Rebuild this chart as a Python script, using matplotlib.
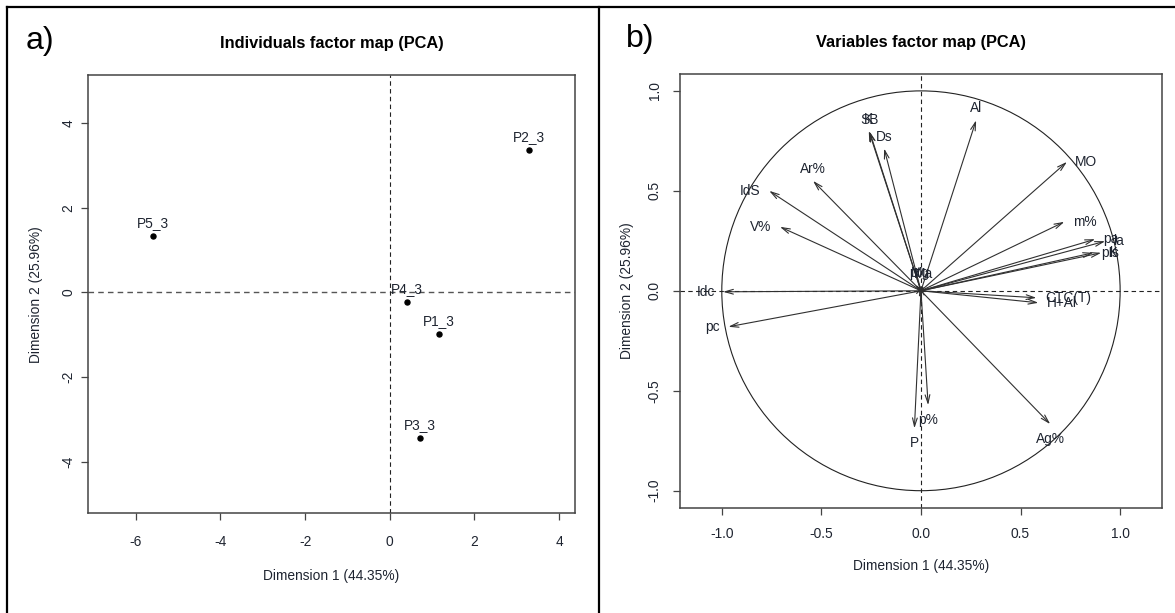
import matplotlib
matplotlib.use("Agg")
import matplotlib.pyplot as plt
from matplotlib.lines import Line2D
from matplotlib.patches import Circle
import numpy as np

plt.rcParams['font.family'] = ['Liberation Sans', 'DejaVu Sans']

# ---- Data: individuals ----
ind_names = ["P1_3", "P2_3", "P3_3", "P4_3", "P5_3"]
ind_dim1 = [1.16, 3.29, 0.71, 0.40, -5.60]
ind_dim2 = [-0.99, 3.37, -3.44, -0.23, 1.33]

# ---- Data: variables ----
var_names = ["Al", "SB", "K", "Ds", "Ar%", "IdS", "V%", "MO", "m%", "pa", "la",
             "pK", "ls", "CTC(T)", "H+Al", "Ag%", "p%", "P", "Idc", "pc",
             "pt", "Mg", "Ma"]
var_dim1 = [0.277, -0.258, -0.262, -0.185, -0.542, -0.762, -0.708, 0.733, 0.720,
            0.875, 0.925, 0.865, 0.905, 0.580, 0.590, 0.649, 0.036, -0.033,
            -0.994, -0.967, -0.028, -0.005, 0.015]
var_dim2 = [0.853, 0.797, 0.800, 0.712, 0.550, 0.500, 0.320, 0.645, 0.345,
            0.258, 0.248, 0.190, 0.190, -0.035, -0.060, -0.667, -0.572, -0.688,
            -0.005, -0.180, 0.030, 0.028, 0.025]

dim1_label = "Dimension 1 (44.35%)"
dim2_label = "Dimension 2 (25.96%)"
ind_ticks = [-6, -4, -2, 0, 2, 4]
ind_yticks = [-4, -2, 0, 2, 4]
var_ticks = [-1.0, -0.5, 0.0, 0.5, 1.0]
var_ticklabels = ["-1.0", "-0.5", "0.0", "0.5", "1.0"]

TXT = '#1e2430'
FS = 9.9

fig = plt.figure(figsize=(11.75, 6.13), dpi=100)

def style_axes(ax, xpad, ypad):
    for s in ax.spines.values():
        s.set_color('#444444')
        s.set_linewidth(1.1)
    ax.tick_params(direction='out', length=5.2, width=0.9, color='#444444',
                   labelsize=FS, labelcolor=TXT)
    ax.tick_params(axis='x', pad=xpad)
    ax.tick_params(axis='y', pad=ypad)
    for lab in ax.get_yticklabels():
        lab.set_rotation(90)
        lab.set_va('center')

# ---------------- Left panel ----------------
ax1 = fig.add_axes([0.0749, 0.1627, 0.4145, 0.7149])
ax1.set_xlim(-7.13, 4.38)
ax1.set_ylim(-5.22, 5.14)
ax1.axhline(0, color='#555555', lw=1.0, ls=(0, (4, 3)))
ax1.axvline(0, color='#222222', lw=0.8, ls=(0, (4, 3)))
ax1.plot(ind_dim1, ind_dim2, 'o', color='black', markersize=3.6, zorder=3)
for n, x, y in zip(ind_names, ind_dim1, ind_dim2):
    ax1.annotate(n, (x, y), xytext=(0, 9.4), textcoords='offset points',
                 ha='center', va='center', fontsize=FS, color=TXT)
ax1.set_xticks(ind_ticks)
ax1.set_xticklabels([str(t) for t in ind_ticks])
ax1.set_yticks(ind_yticks)
ax1.set_yticklabels([str(t) for t in ind_yticks])
style_axes(ax1, 10.5, 4)
ax1.set_xlabel(dim1_label, fontsize=FS, color=TXT, labelpad=14)
ax1.set_ylabel(dim2_label, fontsize=FS, color=TXT, labelpad=13)
ax1.set_title("Individuals factor map (PCA)", fontsize=11.8, fontweight='bold',
              pad=19.5)

# ---------------- Right panel ----------------
ax2 = fig.add_axes([0.5787, 0.1718, 0.4102, 0.7070])
ax2.set_xlim(-1.21, 1.21)
ax2.set_ylim(-1.085, 1.083)
ax2.axhline(0, color='#222222', lw=0.8, ls=(0, (4, 3)))
ax2.axvline(0, color='#222222', lw=0.8, ls=(0, (4, 3)))
ax2.add_patch(Circle((0, 0), 1.0, fill=False, color='#222222', lw=0.8))
for n, x, y in zip(var_names, var_dim1, var_dim2):
    ax2.annotate('', xy=(x, y), xytext=(0, 0),
                 arrowprops=dict(arrowstyle='->,head_length=0.6,head_width=0.17',
                                 mutation_scale=10, shrinkA=0, shrinkB=0,
                                 color='#303030', lw=0.8))
    if abs(x) > abs(y):
        if x >= 0:
            off, ha, va = (6, 0), 'left', 'center'
        else:
            off, ha, va = (-6, 0), 'right', 'center'
    else:
        if y >= 0:
            off, ha, va = (0, 8.6), 'center', 'center'
        else:
            off, ha, va = (0, -10.5), 'center', 'center'
    ax2.annotate(n, (x, y), xytext=off, textcoords='offset points',
                 ha=ha, va=va, fontsize=FS, color=TXT)
ax2.set_xticks(var_ticks)
ax2.set_xticklabels(var_ticklabels)
ax2.set_yticks(var_ticks)
ax2.set_yticklabels(var_ticklabels)
style_axes(ax2, 9, 8)
ax2.set_xlabel(dim1_label, fontsize=FS, color=TXT, labelpad=13)
ax2.set_ylabel(dim2_label, fontsize=FS, color=TXT, labelpad=10)
ax2.set_title("Variables factor map (PCA)", fontsize=11.8, fontweight='bold',
              pad=19.5)

# ---------------- Panel letters and frame ----------------
fig.text(26 / 1175, 1 - 41 / 613, "a)", fontsize=23, va='center', ha='left')
fig.text(626 / 1175, 1 - 39 / 613, "b)", fontsize=23, va='center', ha='left')

lw_frame = 1.6
fig.add_artist(Line2D([7 / 1175, 1.0], [1 - 7 / 613, 1 - 7 / 613],
                      color='black', lw=lw_frame, transform=fig.transFigure))
fig.add_artist(Line2D([7 / 1175, 7 / 1175], [0, 1 - 7 / 613],
                      color='black', lw=lw_frame, transform=fig.transFigure))
fig.add_artist(Line2D([599 / 1175, 599 / 1175], [0, 1 - 7 / 613],
                      color='black', lw=lw_frame, transform=fig.transFigure))

fig.savefig("out.png", dpi=100)
